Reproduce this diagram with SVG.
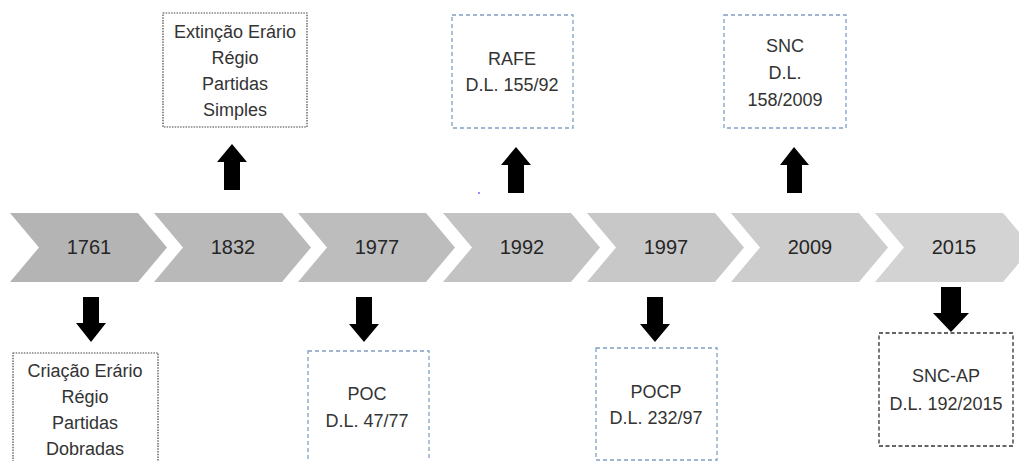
<svg xmlns="http://www.w3.org/2000/svg" width="1019" height="461" viewBox="0 0 1019 461">
<style>
.yr{font-family:"Liberation Sans",Arial,sans-serif;font-size:20px;fill:#262626;text-anchor:middle}
.tx{font-family:"Liberation Sans",Arial,sans-serif;font-size:18px;fill:#333;text-anchor:middle}
.bk{fill:#fff;stroke:#444;stroke-width:1.2;stroke-dasharray:1.5 1.2}
.bkd{fill:#fff;stroke:#333;stroke-width:1.3;stroke-dasharray:4 2.5}
.bl{fill:#fff;stroke:#7f9fc6;stroke-width:1.3;stroke-dasharray:4 3}
.ar{fill:#000}
</style>
<defs>
<polygon id="chev" points="0,213 128,213 157,247.5 128,282 0,282 29,247.5"/>
</defs>
<rect width="1019" height="461" fill="#fff"/>
<g id="timeline">
<g id="y1761"><use href="#chev" x="10" fill="#b4b4b4"/><text class="yr" x="89" y="254">1761</text></g>
<g id="y1832"><use href="#chev" x="154" fill="#b9b9b9"/><text class="yr" x="233" y="254">1832</text></g>
<g id="y1977"><use href="#chev" x="298" fill="#bdbdbd"/><text class="yr" x="377" y="254">1977</text></g>
<g id="y1992"><use href="#chev" x="443" fill="#c3c3c3"/><text class="yr" x="522" y="254">1992</text></g>
<g id="y1997"><use href="#chev" x="587" fill="#c8c8c8"/><text class="yr" x="666" y="254">1997</text></g>
<g id="y2009"><use href="#chev" x="731" fill="#cdcdcd"/><text class="yr" x="810" y="254">2009</text></g>
<g id="y2015"><use href="#chev" x="875" fill="#d3d3d3"/><text class="yr" x="954" y="254">2015</text></g>
</g>
<g id="n-extincao">
<rect class="bk" x="163" y="13" width="144" height="114"/>
<text class="tx" x="235" y="38">Extinção Erário</text>
<text class="tx" x="235" y="64">Régio</text>
<text class="tx" x="235" y="90">Partidas</text>
<text class="tx" x="235" y="116">Simples</text>
</g>
<g id="n-rafe">
<rect class="bl" x="452" y="15" width="121" height="113"/>
<text class="tx" x="512" y="65">RAFE</text>
<text class="tx" x="512" y="91">D.L. 155/92</text>
</g>
<g id="n-snc">
<rect class="bl" x="724" y="15" width="122" height="113"/>
<text class="tx" x="785" y="52">SNC</text>
<text class="tx" x="785" y="79">D.L.</text>
<text class="tx" x="785" y="106">158/2009</text>
</g>
<g id="n-criacao">
<rect class="bk" x="13" y="353" width="145" height="120"/>
<text class="tx" x="85" y="377">Criação Erário</text>
<text class="tx" x="85" y="403">Régio</text>
<text class="tx" x="85" y="429">Partidas</text>
<text class="tx" x="85" y="455">Dobradas</text>
</g>
<g id="n-poc">
<rect class="bl" x="308" y="351" width="121" height="115"/>
<text class="tx" x="367" y="400">POC</text>
<text class="tx" x="367" y="427">D.L. 47/77</text>
</g>
<g id="n-pocp">
<rect class="bl" x="596" y="348" width="121" height="112"/>
<text class="tx" x="656" y="398">POCP</text>
<text class="tx" x="656" y="424">D.L. 232/97</text>
</g>
<g id="n-sncap">
<rect class="bkd" x="879" y="333" width="134" height="113"/>
<text class="tx" x="946" y="382">SNC-AP</text>
<text class="tx" x="946" y="410">D.L. 192/2015</text>
</g>
<g id="connectors">
<polygon class="ar" points="224,190 240,190 240,162 247,162 232,144 217,162 224,162"/>
<polygon class="ar" points="508,193 524,193 524,165 531,165 516,147 501,165 508,165"/>
<polygon class="ar" points="787,193 802,193 802,165 809,165 794,147 780,165 787,165"/>
<polygon class="ar" points="83,297 99,297 99,323 106,323 91,342 76,323 83,323"/>
<polygon class="ar" points="356,297 372,297 372,324 379,324 364,342 349,324 356,324"/>
<polygon class="ar" points="647,297 663,297 663,324 670,324 655,342 640,324 647,324"/>
<polygon class="ar" points="941,287 961,287 961,313 969,313 951,332 933,313 941,313"/>
</g>
<circle cx="479" cy="193" r="1" fill="#6b6bff"/>
</svg>
